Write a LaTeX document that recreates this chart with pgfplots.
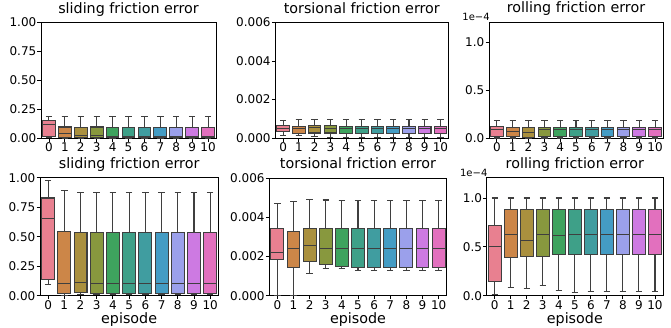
\documentclass[border=0pt]{standalone}
\usepackage{pgfplots}
\pgfplotsset{compat=1.18}
\usepgfplotslibrary{statistics}
\usepackage{fontspec}
\setmainfont{DejaVu Sans}

\definecolor{edge}{RGB}{63,63,63}
\definecolor{c0}{RGB}{232,128,144}
\definecolor{c1}{RGB}{204,134,72}
\definecolor{c2}{RGB}{170,144,62}
\definecolor{c3}{RGB}{136,152,62}
\definecolor{c4}{RGB}{62,163,94}
\definecolor{c5}{RGB}{62,160,136}
\definecolor{c6}{RGB}{64,157,160}
\definecolor{c7}{RGB}{68,156,196}
\definecolor{c8}{RGB}{155,160,235}
\definecolor{c9}{RGB}{205,122,226}
\definecolor{c10}{RGB}{226,112,190}

% \bx{position}{lower whisker}{lower quartile}{median}{upper quartile}{upper whisker}
\newcommand{\bx}[6]{\addplot[draw=edge, line width=1.05pt, fill=c#1,
  boxplot prepared={draw position=#1, lower whisker=#2, lower quartile=#3,
  median=#4, upper quartile=#5, upper whisker=#6, box extend=0.8, whisker extend=0.4}] coordinates {};}

\pgfplotsset{
  base/.style={scale only axis, xmin=-0.5, xmax=10.5, ymin=0,
    boxplot/draw direction=y,
    xtick={0,...,10}, xticklabels={0,1,2,3,4,5,6,7,8,9,10},
    axis line style={line width=0.9pt, black},
    tick style={line width=0.9pt, black}, major tick length=3.5pt,
    tick align=outside, tick pos=left,
    ticklabel style={font=\fontsize{12}{12}\selectfont},
    xticklabel style={inner sep=0pt, yshift=-1pt},
    yticklabel style={inner sep=0pt, xshift=-1pt},
    title style={font=\fontsize{14.3}{14.3}\selectfont, at={(axis description cs:0.5,1)}, anchor=base, yshift=3.2pt, inner sep=0pt},
    xlabel style={font=\fontsize{14.3}{14.3}\selectfont, at={(axis description cs:0.5,0)}, anchor=base, yshift=-27.5pt, inner sep=0pt},
  },
  slid/.style={base, ymax=1, ytick={0,0.25,0.5,0.75,1}, yticklabels={0.00,0.25,0.50,0.75,1.00}, title={sliding friction error}},
  % torsional values are in units of 1e-3
  tors/.style={base, ymax=6, ytick={0,2,4,6}, yticklabels={0.000,0.002,0.004,0.006}, title={torsional friction error}},
  % rolling values are in units of 1e-4
  roll/.style={base, ymax=1.21, ytick={0,0.5,1}, yticklabels={0.0,0.5,1.0}, title={rolling friction error},
    extra description/.code={\node[anchor=base east, inner sep=0pt, font=\fontsize{10}{10}\selectfont] at (0.005,1.01) {1e−4};}},
}

\begin{document}
\begin{tikzpicture}
\useasboundingbox (0,0) rectangle (671pt,-327pt);

% ---------- top row ----------
\begin{axis}[slid, at={(41pt,-138pt)}, anchor=south west, width=175pt, height=115.7pt]
\bx{0}{0.003}{0.015}{0.119}{0.154}{0.183}
\bx{1}{0.0}{0.005}{0.041}{0.095}{0.183}
\bx{2}{0.0}{0.004}{0.025}{0.088}{0.183}
\bx{3}{0.0}{0.004}{0.018}{0.095}{0.183}
\bx{4}{0.0}{0.004}{0.017}{0.088}{0.183}
\bx{5}{0.0}{0.004}{0.017}{0.088}{0.183}
\bx{6}{0.0}{0.004}{0.017}{0.088}{0.183}
\bx{7}{0.0}{0.004}{0.017}{0.088}{0.183}
\bx{8}{0.0}{0.004}{0.017}{0.088}{0.183}
\bx{9}{0.0}{0.004}{0.017}{0.088}{0.183}
\bx{10}{0.0}{0.004}{0.017}{0.088}{0.183}
\end{axis}

\begin{axis}[tors, at={(275.3pt,-138pt)}, anchor=south west, width=173pt, height=115.5pt]
\bx{0}{0.14}{0.32}{0.49}{0.65}{0.90}
\bx{1}{0.13}{0.25}{0.50}{0.60}{0.95}
\bx{2}{0.10}{0.26}{0.56}{0.66}{0.95}
\bx{3}{0.04}{0.26}{0.50}{0.63}{0.95}
\bx{4}{0.02}{0.25}{0.48}{0.62}{0.95}
\bx{5}{0.02}{0.25}{0.48}{0.62}{0.95}
\bx{6}{0.02}{0.25}{0.48}{0.62}{0.95}
\bx{7}{0.02}{0.25}{0.48}{0.62}{0.95}
\bx{8}{0.02}{0.25}{0.48}{0.62}{0.95}
\bx{9}{0.02}{0.25}{0.48}{0.62}{0.95}
\bx{10}{0.02}{0.25}{0.48}{0.62}{0.95}
\end{axis}

\begin{axis}[roll, at={(489pt,-138pt)}, anchor=south west, width=174pt, height=116pt]
\bx{0}{0.0}{0.020}{0.090}{0.120}{0.180}
\bx{1}{0.0}{0.018}{0.064}{0.110}{0.180}
\bx{2}{0.0}{0.005}{0.060}{0.110}{0.180}
\bx{3}{0.0}{0.015}{0.089}{0.113}{0.180}
\bx{4}{0.0}{0.015}{0.089}{0.113}{0.180}
\bx{5}{0.0}{0.015}{0.089}{0.113}{0.180}
\bx{6}{0.0}{0.015}{0.089}{0.113}{0.180}
\bx{7}{0.0}{0.015}{0.089}{0.113}{0.180}
\bx{8}{0.0}{0.015}{0.089}{0.113}{0.180}
\bx{9}{0.0}{0.015}{0.089}{0.113}{0.180}
\bx{10}{0.0}{0.015}{0.089}{0.113}{0.180}
\end{axis}

% ---------- bottom row ----------
\begin{axis}[slid, at={(40pt,-295.7pt)}, anchor=south west, width=178.3pt, height=118pt, xlabel={episode}]
\bx{0}{0.099}{0.141}{0.654}{0.828}{0.977}
\bx{1}{0.005}{0.020}{0.104}{0.546}{0.890}
\bx{2}{0.010}{0.028}{0.113}{0.532}{0.873}
\bx{3}{0.012}{0.022}{0.104}{0.535}{0.873}
\bx{4}{0.012}{0.022}{0.104}{0.535}{0.873}
\bx{5}{0.012}{0.022}{0.104}{0.535}{0.873}
\bx{6}{0.012}{0.022}{0.104}{0.535}{0.873}
\bx{7}{0.012}{0.022}{0.104}{0.535}{0.873}
\bx{8}{0.012}{0.022}{0.104}{0.535}{0.873}
\bx{9}{0.012}{0.022}{0.104}{0.535}{0.873}
\bx{10}{0.012}{0.022}{0.104}{0.535}{0.873}
\end{axis}

\begin{axis}[tors, at={(269.3pt,-295.7pt)}, anchor=south west, width=177.4pt, height=117.7pt, xlabel={episode}]
\bx{0}{0.00}{1.84}{2.20}{3.45}{4.72}
\bx{1}{0.03}{1.45}{2.40}{3.26}{4.82}
\bx{2}{1.11}{1.74}{2.55}{3.45}{4.90}
\bx{3}{1.39}{1.59}{2.40}{3.45}{4.88}
\bx{4}{1.37}{1.47}{2.40}{3.45}{4.87}
\bx{5}{1.30}{1.45}{2.40}{3.45}{4.87}
\bx{6}{1.27}{1.45}{2.40}{3.45}{4.87}
\bx{7}{1.30}{1.45}{2.40}{3.45}{4.87}
\bx{8}{1.30}{1.45}{2.40}{3.45}{4.87}
\bx{9}{1.30}{1.45}{2.40}{3.45}{4.87}
\bx{10}{1.30}{1.45}{2.40}{3.45}{4.87}
\end{axis}

\begin{axis}[roll, at={(486.7pt,-295.7pt)}, anchor=south west, width=176.3pt, height=118.2pt, xlabel={episode}]
\bx{0}{0.014}{0.143}{0.500}{0.714}{1.0}
\bx{1}{0.085}{0.391}{0.622}{0.878}{1.0}
\bx{2}{0.071}{0.398}{0.561}{0.878}{1.0}
\bx{3}{0.102}{0.405}{0.622}{0.878}{1.0}
\bx{4}{0.054}{0.418}{0.616}{0.880}{1.0}
\bx{5}{0.037}{0.418}{0.629}{0.880}{1.0}
\bx{6}{0.041}{0.418}{0.622}{0.880}{1.0}
\bx{7}{0.041}{0.418}{0.622}{0.880}{1.0}
\bx{8}{0.041}{0.418}{0.622}{0.880}{1.0}
\bx{9}{0.041}{0.418}{0.622}{0.880}{1.0}
\bx{10}{0.041}{0.418}{0.622}{0.880}{1.0}
\end{axis}
\end{tikzpicture}
\end{document}
